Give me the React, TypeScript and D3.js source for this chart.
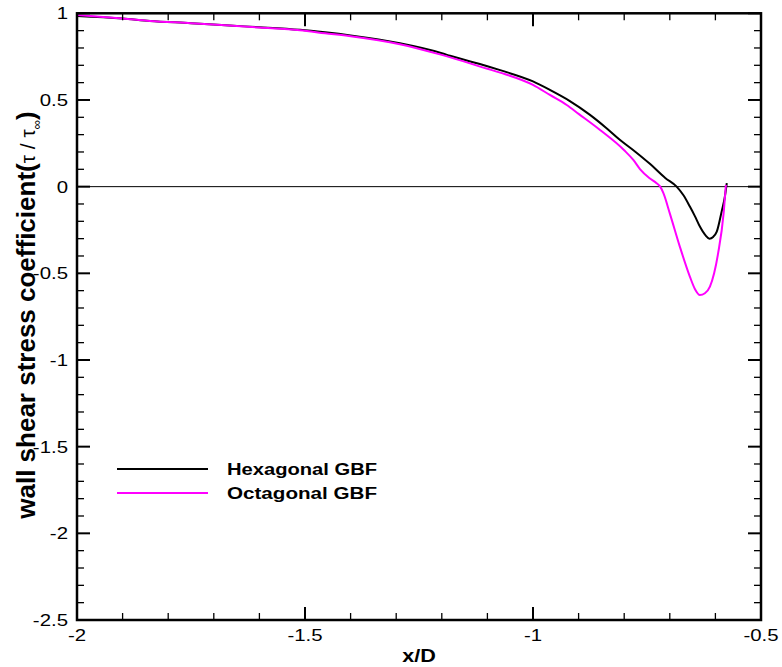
import React from "react";
import * as d3 from "d3";

const hexX = [-2.0, -1.9, -1.84, -1.75, -1.665, -1.6, -1.511, -1.456, -1.4, -1.292, -1.2, -1.182, -1.1, -1.072, -1.0, -0.963, -0.92, -0.875, -0.84, -0.809, -0.775, -0.743, -0.71, -0.685, -0.67, -0.656, -0.645, -0.634, -0.622, -0.613, -0.605, -0.597, -0.586, -0.58, -0.575];
const hexY = [0.985, 0.97, 0.956, 0.943, 0.929, 0.92, 0.905, 0.89, 0.872, 0.827, 0.77, 0.755, 0.695, 0.672, 0.607, 0.558, 0.495, 0.414, 0.34, 0.269, 0.2, 0.13, 0.05, 0.0, -0.05, -0.115, -0.17, -0.23, -0.28, -0.3, -0.29, -0.26, -0.14, -0.07, 0.02];

const octX = [-2.0, -1.9, -1.84, -1.75, -1.665, -1.6, -1.511, -1.456, -1.4, -1.292, -1.2, -1.1, -1.072, -1.0, -0.963, -0.926, -0.9, -0.853, -0.8, -0.78, -0.765, -0.745, -0.729, -0.721, -0.714, -0.7, -0.678, -0.656, -0.645, -0.634, -0.623, -0.612, -0.594, -0.582, -0.577];
const octY = [0.99, 0.97, 0.956, 0.943, 0.929, 0.918, 0.902, 0.885, 0.868, 0.822, 0.76, 0.68, 0.658, 0.587, 0.529, 0.471, 0.42, 0.327, 0.21, 0.154, 0.1, 0.05, 0.02, 0.0, -0.038, -0.154, -0.346, -0.519, -0.59, -0.625, -0.615, -0.577, -0.384, -0.154, 0.01];

const xMajor = [-2, -1.5, -1, -0.5];
const xMajorLabels = ["-2", "-1.5", "-1", "-0.5"];
const yMajor = [1, 0.5, 0, -0.5, -1, -1.5, -2, -2.5];
const yMajorLabels = ["1", "0.5", "0", "-0.5", "-1", "-1.5", "-2", "-2.5"];

const seriesNames = ["Hexagonal GBF", "Octagonal GBF"];
const seriesColors = ["#000000", "#ff00ff"];

const W = 782;
const H = 667;
const L = 77, R = 761, T = 13.3, B = 620;

export default function App() {
  const x = d3.scaleLinear().domain([-2, -0.5]).range([L, R]);
  const y = d3.scaleLinear().domain([-2.5, 1]).range([B, T]);

  const xMinor = d3.range(-2, -0.5 + 1e-9, 0.1).map((v) => +v.toFixed(2)).filter((v) => !xMajor.some((m) => Math.abs(m - v) < 1e-6));
  const yMinor = d3.range(-2.5, 1 + 1e-9, 0.1).map((v) => +v.toFixed(2)).filter((v) => !yMajor.some((m) => Math.abs(m - v) < 1e-6));

  const line = d3
    .line<[number, number]>()
    .x((d) => x(d[0]))
    .y((d) => y(d[1]))
    .curve(d3.curveMonotoneX);

  const hexData = hexX.map((v, i) => [v, hexY[i]] as [number, number]);
  const octData = octX.map((v, i) => [v, octY[i]] as [number, number]);

  const font = "'Liberation Sans', Arial, sans-serif";
  const sx = 1.2;
  const majLen = 13, minLen = 7;

  return (
    <svg width={W} height={H} style={{ position: "absolute", left: 0, top: 0, background: "#fff" }} fontFamily={font}>
      <rect x={0} y={0} width={W} height={H} fill="#fff" />
      {/* zero line */}
      <line x1={L} x2={R} y1={y(0)} y2={y(0)} stroke="#000" strokeWidth={1} />
      {/* curves */}
      <path d={line(hexData) || ""} fill="none" stroke={seriesColors[0]} strokeWidth={2} />
      <path d={line(octData) || ""} fill="none" stroke={seriesColors[1]} strokeWidth={2} />
      {/* frame */}
      <rect x={L} y={T} width={R - L} height={B - T} fill="none" stroke="#000" strokeWidth={2.5} />
      {/* x ticks */}
      {xMajor.map((v) => (
        <g key={"xM" + v}>
          <line x1={x(v)} x2={x(v)} y1={B} y2={B - majLen} stroke="#000" strokeWidth={2} />
          <line x1={x(v)} x2={x(v)} y1={T} y2={T + majLen} stroke="#000" strokeWidth={2} />
        </g>
      ))}
      {xMinor.map((v) => (
        <g key={"xm" + v}>
          <line x1={x(v)} x2={x(v)} y1={B} y2={B - minLen} stroke="#000" strokeWidth={1.3} />
          <line x1={x(v)} x2={x(v)} y1={T} y2={T + minLen} stroke="#000" strokeWidth={1.3} />
        </g>
      ))}
      {/* y ticks */}
      {yMajor.map((v) => (
        <g key={"yM" + v}>
          <line x1={L} x2={L + majLen} y1={y(v)} y2={y(v)} stroke="#000" strokeWidth={2} />
          <line x1={R} x2={R - majLen} y1={y(v)} y2={y(v)} stroke="#000" strokeWidth={2} />
        </g>
      ))}
      {yMinor.map((v) => (
        <g key={"ym" + v}>
          <line x1={L} x2={L + minLen} y1={y(v)} y2={y(v)} stroke="#000" strokeWidth={1.3} />
          <line x1={R} x2={R - minLen} y1={y(v)} y2={y(v)} stroke="#000" strokeWidth={1.3} />
        </g>
      ))}
      {/* x tick labels */}
      {xMajor.map((v, i) => (
        <text key={"xl" + v} transform={`translate(${x(v)},641) scale(${sx},1)`} textAnchor="middle" fontSize={17} fill="#000">
          {xMajorLabels[i]}
        </text>
      ))}
      {/* y tick labels */}
      {yMajor.map((v, i) => (
        <text key={"yl" + v} transform={`translate(68,${y(v) + 6}) scale(${sx},1)`} textAnchor="end" fontSize={17} fill="#000">
          {yMajorLabels[i]}
        </text>
      ))}
      {/* x title */}
      <text transform={`translate(419,662) scale(${sx},1)`} textAnchor="middle" fontSize={18} fontWeight="bold" fill="#000">
        x/D
      </text>
      {/* y title */}
      <text transform={`translate(35,315) rotate(-90)`} textAnchor="middle" fontSize={26} fontWeight="bold" fill="#000">
        wall shear stress coefficient(
        <tspan fontWeight="normal" fontSize={21}>τ / τ</tspan>
        <tspan fontWeight="normal" fontSize={13} dy={6}>∞</tspan>
        <tspan dy={-6}>)</tspan>
      </text>
      {/* legend */}
      {seriesNames.map((n, i) => (
        <g key={n}>
          <line x1={117} x2={208} y1={469 + i * 24} y2={469 + i * 24} stroke={seriesColors[i]} strokeWidth={2} />
          <text x={227} y={475 + i * 24} textLength={150} lengthAdjust="spacingAndGlyphs" fontSize={16} fontWeight="bold" fill="#000">
            {n}
          </text>
        </g>
      ))}
    </svg>
  );
}
